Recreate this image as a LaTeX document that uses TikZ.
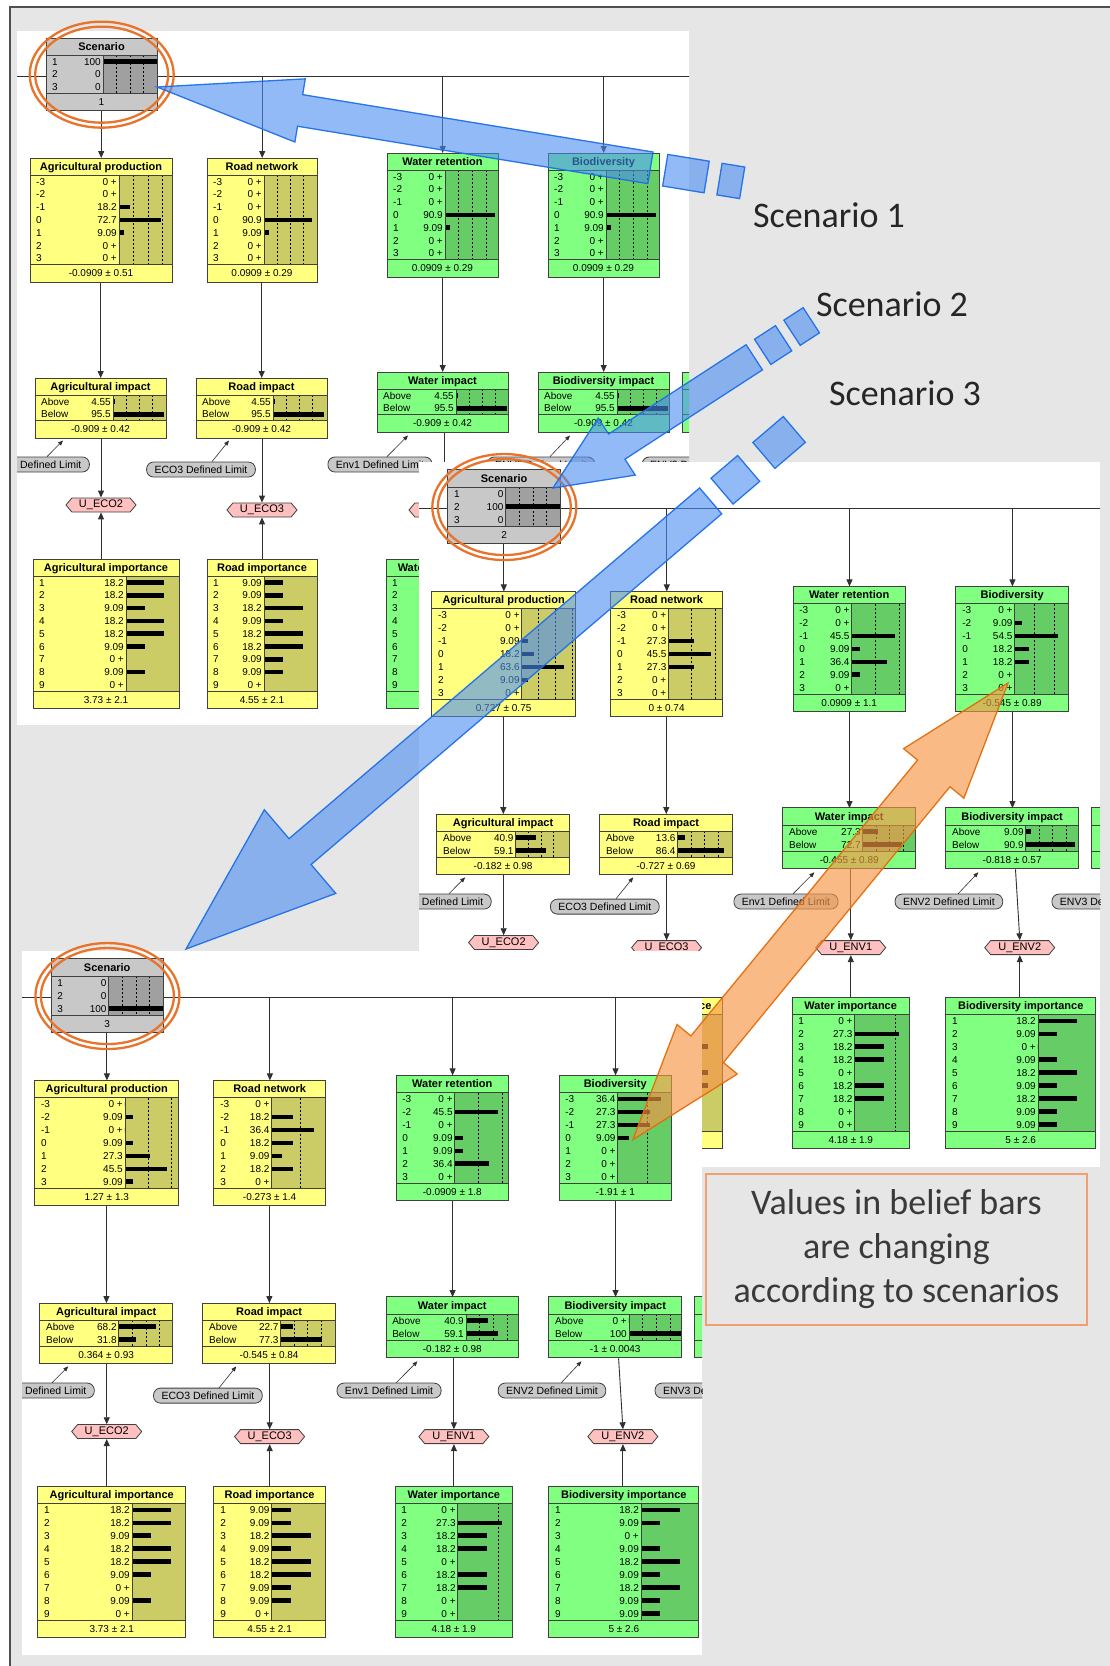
\documentclass[tikz,border=0pt]{standalone}
\usepackage{fontspec}
\setmainfont{Liberation Sans}
\newfontfamily\calfont{Carlito}
\usetikzlibrary{arrows.meta,shapes.symbols}

\definecolor{bggray}{HTML}{E6E6E6}
\definecolor{yel}{HTML}{FFFF80}
\definecolor{yeldk}{HTML}{CCCC66}
\definecolor{grn}{HTML}{80FF80}
\definecolor{grndk}{HTML}{66CC66}
\definecolor{gry}{HTML}{C8C8C8}
\definecolor{grydk}{HTML}{A0A0A0}
\definecolor{pnk}{HTML}{FFC0C0}
\definecolor{nodeedge}{HTML}{404040}
\definecolor{linkc}{HTML}{303030}
\definecolor{framec}{HTML}{505050}
\definecolor{bluefill}{HTML}{4A8CF0}
\definecolor{blueline}{HTML}{1F6FE8}
\definecolor{orfill}{HTML}{F79646}
\definecolor{orline}{HTML}{E46C0A}
\definecolor{ringc}{HTML}{E8732A}
\definecolor{boxline}{HTML}{F0A070}
\definecolor{labelc}{HTML}{262626}
\definecolor{boxtxt}{HTML}{3A3A3A}

\tikzset{
  rowtxt/.style={inner sep=0pt,font=\fontsize{10}{10}\selectfont,text height=7.2pt,text depth=0pt},
  ttltxt/.style={inner sep=0pt,font=\bfseries\fontsize{11}{11}\selectfont,text height=7.8pt,text depth=0pt},
  sep/.style={draw=nodeedge,line width=0.8pt},
  frameline/.style={draw=nodeedge,line width=1pt},
  gridline/.style={draw=black,line width=0.7pt,dash pattern=on 2pt off 2pt},
  bus/.style={draw=linkc,line width=0.9pt},
  link/.style={draw=linkc,line width=0.9pt,-{Triangle[length=7pt,width=6pt]}},
  limlink/.style={draw=linkc,line width=0.6pt,-{Triangle[length=5pt,width=4pt]}},
  util/.style={signal,signal to=east and west,signal pointer angle=100,draw=nodeedge,fill=pnk,
    line width=0.8pt,minimum width=70pt,minimum height=14pt,inner sep=1pt,font=\fontsize{11}{11}\selectfont},
  pill/.style={draw=nodeedge,fill=gry,rounded corners=7pt,minimum height=15pt,inner xsep=8pt,
    inner ysep=0pt,font=\fontsize{10.5}{10.5}\selectfont,line width=0.8pt},
  ring/.style={draw=ringc,line width=2.3pt},
  bluearrow/.style={fill=bluefill,fill opacity=0.6,draw=blueline,draw opacity=0.95,line width=1.3pt},
  orarrow/.style={fill=orfill,fill opacity=0.65,draw=orline,draw opacity=0.95,line width=1.3pt},
  bigtxt/.style={font=\calfont\fontsize{36}{36}\selectfont,text=labelc,inner sep=0pt},
}

% belief-bar node: #1 name, #2 keys, #3 rows label/value/percent
\pgfkeys{/bn/.cd,
  x/.store in=\bnX, y/.store in=\bnY, w/.store in=\bnW,
  b/.store in=\bnB, s/.store in=\bnS, n/.store in=\bnN,
  dash/.store in=\bnD, title/.store in=\bnT, foot/.store in=\bnF,
  light/.store in=\bnL, dark/.store in=\bnK}
\def\pscale{1}
\newcommand\bnode[3]{%
  \pgfkeys{/bn/.cd,dash={25,50,75},s=0.55,n=7,light=yel,dark=yeldk,title={},foot={},#2}%
  \pgfmathsetmacro\bnH{34.5+\bnN*12.8}%
  \pgfmathsetmacro\bnR{\bnY+17+\bnN*12.8}%
  \pgfmathsetmacro\bnWW{\bnW*\pscale}%
  \pgfmathsetmacro\bnHH{\bnH*\pscale}%
  \fill[\bnL] (\bnX,\bnY) rectangle (\bnX+\bnW,\bnY+\bnH);
  \begin{scope}
    \clip (\bnX+\bnB,\bnY+17) rectangle (\bnX+\bnW,\bnR);
    \fill[\bnK] (\bnX+\bnB,\bnY+17) rectangle (\bnX+\bnW,\bnR);
    \foreach \d in \bnD {\draw[gridline] (\bnX+\bnB+\d*\bnS,\bnY+17) -- (\bnX+\bnB+\d*\bnS,\bnR);}
    \foreach \lab/\val/\pct [count=\i] in {#3} {%
      \fill[black] (\bnX+\bnB,\bnY+17+\i*12.8-8.7) rectangle (\bnX+\bnB+\pct*\bnS,\bnY+17+\i*12.8-4.1);}
  \end{scope}
  \foreach \lab/\val/\pct [count=\i] in {#3} {%
    \node[rowtxt,anchor=west] at (\bnX+6,\bnY+17+\i*12.8-6.4) {\lab};
    \node[rowtxt,anchor=east] at (\bnX+\bnB-2,\bnY+17+\i*12.8-6.4) {\val};}
  \draw[sep] (\bnX,\bnY+17) -- (\bnX+\bnW,\bnY+17);
  \draw[sep] (\bnX,\bnR) -- (\bnX+\bnW,\bnR);
  \draw[sep] (\bnX+\bnB,\bnY+17) -- (\bnX+\bnB,\bnR);
  \draw[frameline] (\bnX,\bnY) rectangle (\bnX+\bnW,\bnY+\bnH);
  \node[ttltxt] at (\bnX+\bnW/2,\bnY+8.5) {\bnT};
  \node[rowtxt] at (\bnX+\bnW/2,\bnR+8.75) {\bnF};
  \node[inner sep=0pt,anchor=north west,minimum width=\bnWW pt,minimum height=\bnHH pt] (#1) at (\bnX,\bnY) {};
}

% parts shared by every scenario view; #2 and #3 switch the agricultural and
% biodiversity importance nodes on (1) or off (0) where another view hides them
\newcommand\fixedparts[3]{%
  \ifnum#2=1
  \bnode{#1aim}{x=33,y=559,w=146,b=93,n=9,s=2.09,dash={1000},title={Agricultural importance},foot={3.73 ± 2.1}}
    {1/18.2/18.2,2/18.2/18.2,3/9.09/9.09,4/18.2/18.2,5/18.2/18.2,6/9.09/9.09,7/0 +/0,8/9.09/9.09,9/0 +/0}
  \fi
  \bnode{#1rim}{x=207,y=559,w=110,b=57,n=9,s=2.12,dash={1000},title={Road importance},foot={4.55 ± 2.1}}
    {1/9.09/9.09,2/9.09/9.09,3/18.2/18.2,4/9.09/9.09,5/18.2/18.2,6/18.2/18.2,7/9.09/9.09,8/9.09/9.09,9/0 +/0}
  \bnode{#1wim}{x=386,y=559,w=116,b=62,n=9,s=1.6,dash={25},light=grn,dark=grndk,title={Water importance},foot={4.18 ± 1.9}}
    {1/0 +/0,2/27.3/27.3,3/18.2/18.2,4/18.2/18.2,5/0 +/0,6/18.2/18.2,7/18.2/18.2,8/0 +/0,9/0 +/0}
  \ifnum#3=1
  \bnode{#1bim}{x=538,y=559,w=148,b=91,n=9,s=2.1,dash={1000},light=grn,dark=grndk,title={Biodiversity importance},foot={5 ± 2.6}}
    {1/18.2/18.2,2/9.09/9.09,3/0 +/0,4/9.09/9.09,5/18.2/18.2,6/9.09/9.09,7/18.2/18.2,8/9.09/9.09,9/9.09/9.09}
  \fi
  \bnode{#1eip}{x=682,y=372,w=131,b=79,n=2,light=grn,dark=grndk}{ / /0, / /0}
  \node[pill] (#1l2) at (35,464.5) {ECO2 Defined Limit};
  \node[pill] (#1l3) at (201,469.5) {ECO3 Defined Limit};
  \node[pill] (#1l5) at (380,464.5) {Env1 Defined Limit};
  \node[pill] (#1l6) at (541,464.5) {ENV2 Defined Limit};
  \node[pill] (#1l7) at (696,464.5) {ENV3 Defined Limit};
  \node[util] (#1u2) at (101,505) {U\_ECO2};
  \node[util] (#1u3) at (262,510) {U\_ECO3};
  \node[util] (#1u5) at (444,510) {U\_ENV1};
  \ifnum#3=1 \node[util] (#1u6) at (611,510) {U\_ENV2};\fi
  \draw[link] (#1apr.north |- #1sc.south) -- (#1apr.north);
  \draw[link] (#1rnw.north |- #1busL) -- (#1rnw.north);
  \draw[link] (#1wrt.north |- #1busL) -- (#1wrt.north);
  \draw[link] (#1bdv.north |- #1busL) -- (#1bdv.north);
  \draw[link] (#1aip.north |- #1apr.south) -- (#1aip.north);
  \draw[link] (#1rip.north |- #1rnw.south) -- (#1rip.north);
  \draw[link] (#1wip.north |- #1wrt.south) -- (#1wip.north);
  \draw[link] (#1bip.north |- #1bdv.south) -- (#1bip.north);
  \draw[link] (#1u2.north |- #1aip.south) -- (#1u2.north);
  \draw[link] (#1u3.north |- #1rip.south) -- (#1u3.north);
  \draw[link] (#1u5.north |- #1wip.south) -- (#1u5.north);
  \ifnum#3=1 \draw[link] ([xshift=3pt]#1bip.south) -- (#1u6.north);\fi
  \ifnum#2=1 \draw[link] (#1u2.south |- #1aim.north) -- (#1u2.south);\fi
  \draw[link] (#1u3.south |- #1rim.north) -- (#1u3.south);
  \draw[link] (#1u5.south |- #1wim.north) -- (#1u5.south);
  \ifnum#3=1 \draw[link] (#1u6.south |- #1bim.north) -- (#1u6.south);\fi
  \draw[limlink] ([xshift=12pt]#1l2.north) -- ([xshift=28pt,yshift=-2pt]#1aip.south west);
  \draw[limlink] ([xshift=11pt]#1l3.north) -- ([xshift=33pt,yshift=-2pt]#1rip.south west);
  \draw[limlink] ([xshift=7pt]#1l5.north) -- ([xshift=31pt,yshift=-3pt]#1wip.south west);
  \draw[limlink] ([xshift=9pt]#1l6.north) -- ([xshift=32pt,yshift=-3pt]#1bip.south west);
}

\newcommand\busline[1]{%
  \coordinate (#1busL) at (-60,76);
  \coordinate (#1busR) at (760,76);
  \draw[bus] (#1busL) -- (#1busR);
}

% block arrow along its own axis: #1 tip, #2 angle, #3 head length, #4 head half width,
% #5 shaft half width, #6 shaft end, #7 detached pieces a/b
\newcommand\blockarrow[7]{%
  \begin{scope}[shift={#1},rotate=#2]
    \draw[bluearrow] (0,0) -- (#3,-#4) -- (#3,-#5) -- (#6,-#5) -- (#6,#5) -- (#3,#5) -- (#3,#4) -- cycle;
    \foreach \a/\b in {#7} {\draw[bluearrow] (\a,-#5) rectangle (\b,#5);}
  \end{scope}}

\begin{document}
\begin{tikzpicture}[x=1pt,y=-1pt]
\useasboundingbox (0,0) rectangle (1110,1666);
\fill[white] (0,0) rectangle (1110,1666);
\draw[fill=bggray,draw=framec,line width=1.5pt] (10,7) rectangle (1125,1680);

% ---------- scenario 1 view (its lower right part lies under view 2) ----------
\begin{scope}
  \clip (17,31) -- (689,31) -- (689,462) -- (419,462) -- (419,725) -- (17,725) -- cycle;
  \fill[white] (17,31) rectangle (689,725);
  \def\pscale{1}
  \busline{a}
  \bnode{asc}{x=46,y=38,w=111,b=57,n=3,s=0.54,light=gry,dark=grydk,title=Scenario,foot=1}{1/100/100,2/0/0,3/0/0}
  \bnode{aapr}{x=30,y=158,w=142,b=89,s=0.58,title={Agricultural production},foot={-0.0909 ± 0.51}}
    {-3/0 +/0,-2/0 +/0,-1/18.2/18.2,0/72.7/72.7,1/9.09/9.09,2/0 +/0,3/0 +/0}
  \bnode{arnw}{x=207,y=158,w=110,b=57,s=0.53,title={Road network},foot={0.0909 ± 0.29}}
    {-3/0 +/0,-2/0 +/0,-1/0 +/0,0/90.9/90.9,1/9.09/9.09,2/0 +/0,3/0 +/0}
  \bnode{awrt}{x=387,y=153,w=111,b=58,s=0.55,light=grn,dark=grndk,title={Water retention},foot={0.0909 ± 0.29}}
    {-3/0 +/0,-2/0 +/0,-1/0 +/0,0/90.9/90.9,1/9.09/9.09,2/0 +/0,3/0 +/0}
  \bnode{abdv}{x=548,y=153,w=111,b=58,s=0.55,light=grn,dark=grndk,title={Biodiversity},foot={0.0909 ± 0.29}}
    {-3/0 +/0,-2/0 +/0,-1/0 +/0,0/90.9/90.9,1/9.09/9.09,2/0 +/0,3/0 +/0}
  \bnode{aaip}{x=35,y=378,w=131,b=78,n=2,s=0.53,title={Agricultural impact},foot={-0.909 ± 0.42}}{Above/4.55/4.55,Below/95.5/95.5}
  \bnode{arip}{x=196,y=378,w=131,b=77,n=2,s=0.53,title={Road impact},foot={-0.909 ± 0.42}}{Above/4.55/4.55,Below/95.5/95.5}
  \bnode{awip}{x=377,y=372,w=131,b=79,n=2,s=0.53,light=grn,dark=grndk,title={Water impact},foot={-0.909 ± 0.42}}{Above/4.55/4.55,Below/95.5/95.5}
  \bnode{abip}{x=538,y=372,w=131,b=79,n=2,s=0.53,light=grn,dark=grndk,title={Biodiversity impact},foot={-0.909 ± 0.42}}{Above/4.55/4.55,Below/95.5/95.5}
  \fixedparts{a}{1}{0}
\end{scope}

% ---------- scenario 2 view (its lower left part lies under view 3) ----------
\begin{scope}
  \clip (419,462) -- (1100,462) -- (1100,1167) -- (702,1167) -- (702,951) -- (419,951) -- cycle;
  \fill[white] (419,462) rectangle (1100,1167);
  \begin{scope}[shift={(401.4,431.5)},scale=1.012]
  \def\pscale{1.012}
  \busline{b}
  \bnode{bsc}{x=46,y=38,w=111,b=57,n=3,s=0.54,light=gry,dark=grydk,title=Scenario,foot=2}{1/0/0,2/100/100,3/0/0}
  \bnode{bapr}{x=30,y=158,w=142,b=89,s=0.66,title={Agricultural production},foot={0.727 ± 0.75}}
    {-3/0 +/0,-2/0 +/0,-1/9.09/9.09,0/18.2/18.2,1/63.6/63.6,2/9.09/9.09,3/0 +/0}
  \bnode{brnw}{x=207,y=158,w=110,b=57,s=0.92,dash={25,50},title={Road network},foot={0 ± 0.74}}
    {-3/0 +/0,-2/0 +/0,-1/27.3/27.3,0/45.5/45.5,1/27.3/27.3,2/0 +/0,3/0 +/0}
  \bnode{bwrt}{x=387,y=153,w=111,b=58,s=0.95,dash={25,50},light=grn,dark=grndk,title={Water retention},foot={0.0909 ± 1.1}}
    {-3/0 +/0,-2/0 +/0,-1/45.5/45.5,0/9.09/9.09,1/36.4/36.4,2/9.09/9.09,3/0 +/0}
  \bnode{bbdv}{x=548,y=153,w=111,b=58,s=0.79,dash={25,50},light=grn,dark=grndk,title={Biodiversity},foot={-0.545 ± 0.89}}
    {-3/0 +/0,-2/9.09/9.09,-1/54.5/54.5,0/18.2/18.2,1/18.2/18.2,2/0 +/0,3/0 +/0}
  \bnode{baip}{x=35,y=378,w=131,b=78,n=2,s=0.5,title={Agricultural impact},foot={-0.182 ± 0.98}}{Above/40.9/40.9,Below/59.1/59.1}
  \bnode{brip}{x=196,y=378,w=131,b=77,n=2,s=0.53,title={Road impact},foot={-0.727 ± 0.69}}{Above/13.6/13.6,Below/86.4/86.4}
  \bnode{bwip}{x=377,y=372,w=131,b=79,n=2,s=0.53,light=grn,dark=grndk,title={Water impact},foot={-0.455 ± 0.89}}{Above/27.3/27.3,Below/72.7/72.7}
  \bnode{bbip}{x=538,y=372,w=131,b=79,n=2,s=0.53,light=grn,dark=grndk,title={Biodiversity impact},foot={-0.818 ± 0.57}}{Above/9.09/9.09,Below/90.9/90.9}
  \fixedparts{b}{0}{1}
  \end{scope}
\end{scope}

% ---------- scenario 3 view ----------
\begin{scope}
  \clip (22,951) rectangle (702,1655);
  \fill[white] (22,951) rectangle (702,1655);
  \begin{scope}[shift={(4.5,920.5)},scale=1.012]
  \def\pscale{1.012}
  \busline{c}
  \bnode{csc}{x=46,y=38,w=111,b=57,n=3,s=0.54,light=gry,dark=grydk,title=Scenario,foot=3}{1/0/0,2/0/0,3/100/100}
  \bnode{capr}{x=30,y=158,w=142,b=89,s=0.92,dash={25,50},title={Agricultural production},foot={1.27 ± 1.3}}
    {-3/0 +/0,-2/9.09/9.09,-1/0 +/0,0/9.09/9.09,1/27.3/27.3,2/45.5/45.5,3/9.09/9.09}
  \bnode{crnw}{x=207,y=158,w=110,b=57,s=1.15,dash={25},title={Road network},foot={-0.273 ± 1.4}}
    {-3/0 +/0,-2/18.2/18.2,-1/36.4/36.4,0/18.2/18.2,1/9.09/9.09,2/18.2/18.2,3/0 +/0}
  \bnode{cwrt}{x=387,y=153,w=111,b=58,s=0.93,dash={25,50},light=grn,dark=grndk,title={Water retention},foot={-0.0909 ± 1.8}}
    {-3/0 +/0,-2/45.5/45.5,-1/0 +/0,0/9.09/9.09,1/9.09/9.09,2/36.4/36.4,3/0 +/0}
  \bnode{cbdv}{x=548,y=153,w=111,b=58,s=1.18,dash={25},light=grn,dark=grndk,title={Biodiversity},foot={-1.91 ± 1}}
    {-3/36.4/36.4,-2/27.3/27.3,-1/27.3/27.3,0/9.09/9.09,1/0 +/0,2/0 +/0,3/0 +/0}
  \bnode{caip}{x=35,y=378,w=131,b=78,n=2,s=0.54,title={Agricultural impact},foot={0.364 ± 0.93}}{Above/68.2/68.2,Below/31.8/31.8}
  \bnode{crip}{x=196,y=378,w=131,b=77,n=2,s=0.53,title={Road impact},foot={-0.545 ± 0.84}}{Above/22.7/22.7,Below/77.3/77.3}
  \bnode{cwip}{x=377,y=372,w=131,b=79,n=2,s=0.54,light=grn,dark=grndk,title={Water impact},foot={-0.182 ± 0.98}}{Above/40.9/40.9,Below/59.1/59.1}
  \bnode{cbip}{x=538,y=372,w=131,b=79,n=2,s=0.55,light=grn,dark=grndk,title={Biodiversity impact},foot={-1 ± 0.0043}}{Above/0 +/0,Below/100/100}
  \fixedparts{c}{1}{1}
  \end{scope}
\end{scope}

% ---------- rings round the scenario nodes ----------
\foreach \p in {a,b,c} {
  \draw[ring] (\p sc.center) ellipse [x radius=72pt,y radius=53pt];
  \draw[ring] (\p sc.center) ellipse [x radius=66.5pt,y radius=48pt];
}

% ---------- scenario arrows ----------
\blockarrow{(157,87)}{-9.3}{145}{32}{16}{500}{515/557,570/593}
\blockarrow{(553,488)}{33}{76}{34}{15}{240}{250/275,285/308}
\blockarrow{(186,949)}{40.5}{150}{55}{17}{690}{705/740,760/800}

\node[bigtxt] (s1) at (829,215) {Scenario 1};
\node[bigtxt] (s2) at (892,304) {Scenario 2};
\node[bigtxt] (s3) at (905,393) {Scenario 3};

% ---------- double arrow between the two Biodiversity nodes ----------
\begin{scope}[shift={(1008,683)},rotate=-129.4]
  \draw[orarrow] (0,0) -- (117,-39) -- (117,-21) -- (474,-21) -- (474,-39) -- (591,0)
    -- (474,39) -- (474,21) -- (117,21) -- (117,39) -- cycle;
\end{scope}

% ---------- note ----------
\node[draw=boxline,line width=1.3pt,fill=bggray,minimum width=381pt,minimum height=151pt,
  align=center,text=boxtxt,font=\calfont\fontsize{36}{44}\selectfont] (note) at (896.5,1249.5)
  {Values in belief bars\\are changing\\according to scenarios};
\end{tikzpicture}
\end{document}
